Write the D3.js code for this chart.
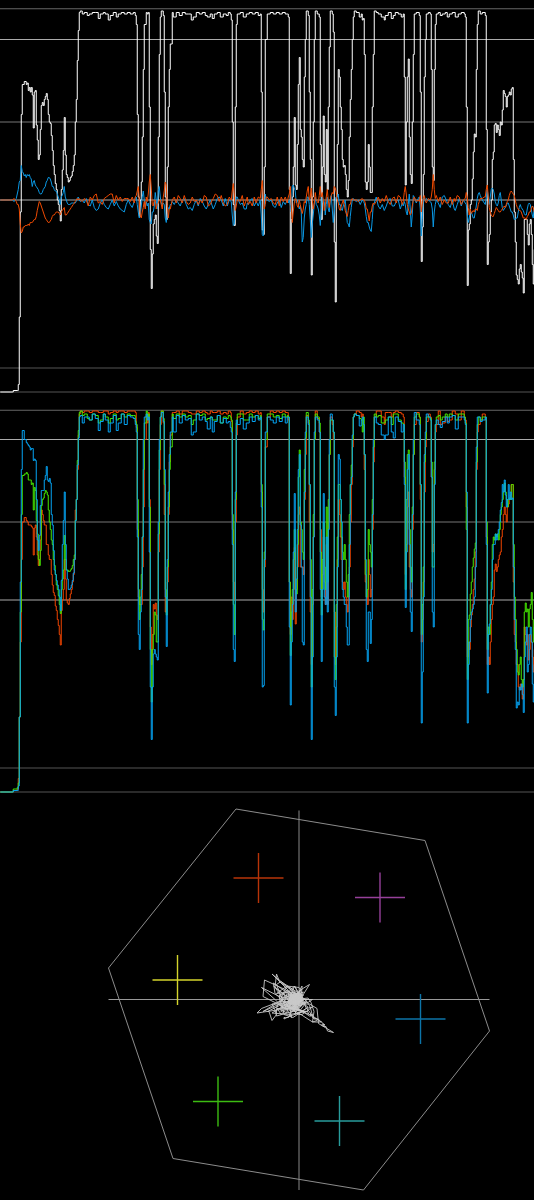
<!DOCTYPE html>
<html><head><meta charset="utf-8"><title>Waveform and vectorscope</title>
<style>html,body{margin:0;padding:0;background:#000}svg{display:block}</style>
<script src="https://cdn.jsdelivr.net/npm/d3@7"></script></head><body><script>
const frames=[0,12,13,17,18,19,20,21,22,24,
26,27,28,29,30,31,32,33,34,35,
36,37,38,39,40,41,42,43,44,45,
46,47,48,49,50,51,52,53,54,55,
56,57,58,59,60,61,62,63,64,65,
66,67,68,69,70,71,72,73,74,75,
76,77,78,79,80,82,84,87,89,92,
95,98,100,103,105,108,110,113,116,118,
121,124,127,130,133,135,136,137,138,139,
140,141,142,143,144,146,147,148,149,150,
151,152,153,154,155,156,157,158,159,160,
161,163,164,165,166,167,168,169,170,172,
173,176,179,182,185,188,191,193,196,199,
202,205,207,210,212,214,217,220,223,226,
228,230,231,232,233,234,235,236,237,240,
243,246,249,252,255,258,260,261,262,263,
264,265,267,270,273,276,279,282,285,287,
288,289,290,291,292,293,294,295,296,297,
298,299,300,301,302,303,304,305,306,308,
309,310,311,312,313,314,315,317,319,320,
321,322,323,324,325,326,327,328,329,330,
332,333,334,335,336,337,338,339,340,341,
342,343,344,345,346,347,348,349,350,351,
352,353,354,356,359,361,362,363,364,365,
366,367,368,369,370,371,372,373,374,376,
378,381,384,385,388,391,393,395,398,401,
403,404,405,406,407,408,409,410,411,412,
413,414,416,419,420,421,422,423,424,425,
426,428,430,431,432,433,434,435,436,438,
440,442,445,447,449,452,455,458,461,464,
465,466,467,468,469,470,471,472,473,474,
475,476,477,478,480,482,485,486,487,488,
489,490,491,492,493,494,495,496,497,498,
499,500,501,502,503,504,505,506,507,508,
509,510,511,512,513,514,515,516,517,518,
519,520,521,522,523,524,525,526,527,528,
529,530,531,532,533,534];
const luma=[0,0,1,1,5,50,120,185,205,207,
205,206,201,203,200,203,198,176,200,201,
178,168,155,158,175,191,193,191,195,197,
199,195,185,180,179,171,161,151,145,139,
135,128,125,121,114,135,148,161,183,158,
145,143,140,141,143,144,147,151,158,180,
195,221,241,253,254,252,253,251,252,253,
253,249,252,253,252,248,251,253,250,252,
253,252,253,252,253,251,245,185,130,117,
128,140,170,215,245,253,252,253,190,95,
69,92,112,115,118,104,99,170,225,250,
254,251,200,130,115,150,190,215,232,253,
250,253,251,253,252,252,248,250,253,252,
253,251,250,252,249,252,253,250,252,251,
253,252,248,180,125,111,190,245,252,253,
250,252,253,252,253,251,252,200,108,105,
150,235,252,253,252,253,252,253,252,252,
250,135,79,115,130,150,183,138,135,165,
205,223,175,170,155,150,210,235,254,251,
200,155,78,130,180,235,254,252,250,165,
115,150,184,145,140,175,135,190,230,254,
252,240,100,60,130,165,215,210,190,175,
155,150,151,145,135,130,141,170,195,215,
235,250,254,253,250,252,248,249,225,140,
135,140,165,150,133,133,190,225,254,253,
252,250,248,251,253,249,251,253,252,250,
252,210,138,180,210,222,170,145,139,180,
225,252,253,251,200,87,110,145,210,235,
252,253,252,215,150,141,215,245,252,253,
251,252,253,250,252,253,250,252,253,252,
250,190,71,108,112,125,128,142,160,172,
170,215,245,254,252,253,251,175,85,100,
105,120,128,155,160,178,179,173,178,175,
171,180,178,188,201,199,197,190,197,198,
200,198,202,203,155,120,100,78,75,72,
82,85,80,76,66,115,115,115,105,98,
112,115,105,85,72,95];
const red=[0,0,1,2,9,50,100,155,180,183,
181,180,178,178,178,177,176,158,176,178,
170,158,151,155,168,188,185,181,178,178,
165,165,158,155,155,145,138,133,131,124,
121,115,111,105,98,121,128,135,155,142,
128,126,125,129,132,135,140,145,155,188,
195,215,238,252,254,253,254,254,253,254,
254,253,253,254,254,252,253,254,253,254,
254,253,254,254,254,253,243,175,130,125,
125,125,150,190,235,252,246,253,195,110,
85,105,125,122,126,118,115,160,215,245,
254,246,185,120,130,140,185,220,238,253,
253,254,252,254,254,253,252,252,254,253,
254,253,252,254,253,253,254,252,253,252,
254,253,247,175,140,128,180,238,250,254,
252,253,254,253,254,252,253,200,135,120,
150,230,250,254,253,254,253,254,253,253,
248,140,105,130,115,135,163,112,135,150,
185,190,150,150,150,145,195,225,251,246,
180,120,85,125,170,235,254,249,240,175,
130,145,170,140,125,165,125,180,225,250,
245,235,120,85,110,155,195,185,170,155,
140,135,140,130,125,120,130,150,180,205,
230,250,252,254,253,250,252,245,215,140,
130,125,155,145,130,135,175,220,250,254,
254,250,245,253,253,250,253,254,253,252,
250,210,145,165,190,200,150,135,130,175,
225,245,253,250,195,100,115,140,200,230,
247,252,250,210,160,165,215,240,245,254,
245,246,250,247,248,254,252,248,254,250,
248,190,90,100,95,110,118,125,135,142,
160,215,240,245,248,252,248,170,85,90,
85,100,115,125,130,148,152,147,150,155,
158,160,170,175,185,190,185,180,190,192,
195,198,205,205,140,105,100,85,85,70,
68,72,70,62,75,110,105,98,105,88,
95,105,100,90,80,95];
const green=[0,0,2,3,6,50,120,185,211,212,
213,212,208,208,208,205,206,188,203,201,
181,172,155,151,161,191,195,196,199,201,
200,198,188,180,175,168,165,155,151,145,
138,135,131,125,119,135,142,148,171,155,
148,148,147,147,148,149,151,155,158,181,
195,221,241,253,254,251,252,249,248,252,
251,246,248,252,250,246,249,252,248,249,
252,250,252,251,251,247,245,195,135,115,
130,145,170,215,246,254,250,252,190,95,
60,95,105,120,118,100,100,172,228,250,
254,249,205,135,118,150,190,215,230,252,
249,252,250,252,250,251,245,248,252,251,
252,248,249,250,248,248,251,246,250,249,
251,250,248,185,125,105,195,246,252,252,
248,248,252,250,251,249,251,205,115,108,
160,235,252,252,250,251,249,252,250,251,
250,140,91,120,135,155,175,135,132,165,
210,228,180,175,160,155,215,236,253,248,
205,155,70,135,185,235,252,250,246,160,
118,155,180,150,135,190,140,195,225,248,
248,240,90,75,125,170,205,205,195,170,
160,155,165,155,140,130,145,185,205,218,
235,250,252,251,249,248,240,250,225,145,
130,135,175,165,160,150,195,230,252,250,
251,246,246,248,250,245,252,252,248,246,
245,220,135,195,225,228,175,150,140,190,
225,250,252,250,205,105,125,150,220,235,
250,250,249,220,150,150,220,245,250,251,
248,250,252,250,252,251,248,252,252,250,
246,175,75,115,118,132,140,150,156,162,
166,220,245,250,248,250,250,180,95,110,
105,125,140,165,170,168,172,170,172,168,
175,185,190,195,200,206,200,195,190,195,
196,195,205,205,165,130,115,95,80,78,
85,90,75,70,75,120,126,120,122,110,
122,125,133,115,100,110];
const blue=[0,0,1,1,4,50,140,215,241,235,
233,232,231,230,228,229,229,221,222,221,
195,168,161,171,191,201,201,201,208,211,
217,208,207,209,206,185,178,161,148,145,
141,138,135,130,121,141,165,181,200,165,
148,142,135,135,136,138,141,146,155,181,
195,218,236,250,251,246,250,250,248,252,
249,241,247,252,248,240,246,251,241,246,
252,245,251,250,249,245,240,170,105,95,
120,135,170,235,250,252,248,250,160,70,
35,70,92,95,92,90,88,180,235,250,
253,247,215,130,97,155,200,225,240,250,
240,251,246,251,248,249,238,240,252,248,
250,247,242,250,240,247,251,246,249,246,
247,243,240,165,95,87,200,248,245,249,
242,246,250,247,251,248,250,190,70,71,
155,240,250,248,246,250,247,250,246,250,
250,110,58,100,125,160,199,120,142,175,
215,225,178,150,100,98,200,240,250,245,
205,130,35,90,170,240,250,248,240,135,
87,135,199,130,125,170,120,175,235,252,
248,240,70,51,90,150,225,222,195,180,
135,130,125,125,110,98,98,165,205,210,
238,250,252,251,244,248,250,245,225,155,
95,87,120,120,99,115,185,235,250,246,
245,238,235,238,250,240,236,250,247,240,
245,205,123,160,215,225,165,120,107,185,
235,253,248,245,205,46,80,130,225,240,
252,250,248,210,120,110,205,245,248,245,
243,247,250,246,250,251,242,250,250,248,
245,200,46,85,100,115,120,122,125,130,
150,230,250,250,247,248,250,165,66,105,
112,125,135,155,165,165,172,168,172,175,
180,188,193,205,200,208,198,190,195,205,
195,200,195,196,150,115,95,56,60,58,
70,68,72,65,53,90,100,110,80,85,
105,110,100,72,60,85];
const chromaFrames=[0,12,14,16,17,18,19,20,21,22,
23,24,25,26,27,28,29,30,31,32,
33,34,35,36,37,38,39,40,41,42,
43,44,45,46,47,48,49,50,51,52,
53,54,55,56,57,58,59,60,61,62,
63,64,65,66,67,68,69,70,71,72,
73,75,76,77,78,79,80,82,84,86,
88,90,92,94,96,98,100,102,104,106,
108,110,112,114,116,118,120,122,124,126,
128,130,132,134,135,136,137,138,139,140,
141,142,143,144,145,146,147,148,149,150,
151,152,153,154,155,156,157,158,159,160,
161,162,163,164,165,166,167,168,169,170,
171,172,174,176,178,180,182,184,186,188,
190,192,194,196,198,200,202,204,206,208,
210,212,213,215,217,219,221,223,225,227,
229,231,232,233,234,235,236,237,238,240,
242,244,246,247,248,250,252,254,256,258,
260,261,262,263,264,265,266,267,269,271,
273,275,277,279,281,283,285,287,288,289,
290,291,292,293,294,295,296,297,298,299,
300,301,302,303,304,305,306,307,308,309,
310,311,312,313,314,315,316,317,318,319,
320,321,322,323,324,325,326,327,328,329,
330,331,332,333,334,335,336,337,338,339,
340,341,342,343,344,345,346,347,348,349,
350,351,352,353,354,356,358,360,362,363,
364,365,366,367,368,369,370,371,372,373,
374,376,378,380,382,384,386,388,390,392,
394,396,398,400,402,403,404,405,406,407,
408,409,410,411,412,413,414,416,418,419,
420,421,422,423,424,425,426,428,430,431,
432,433,434,435,436,438,440,442,444,446,
448,450,452,454,455,457,459,461,463,465,
466,467,468,469,470,471,472,473,474,475,
476,477,478,479,480,482,484,485,486,487,
488,489,490,491,492,493,494,495,496,497,
498,499,500,501,502,503,504,505,506,507,
508,509,510,511,512,513,514,515,516,517,
518,519,520,521,522,523,524,525,526,527,
528,529,530,531,532,533,534];
const cb=[128,128,127,129,132,135,140,141,151,147,
146,144,145,143,145,144,145,143,142,137,
140,141,138,137,136,135,133,132,132,133,
135,136,137,140,141,143,143,142,140,137,
137,135,134,134,132,130,128,125,130,131,
133,137,130,128,126,125,125,125,126,126,
126,126,127,129,130,128,127,128,126,129,
125,124,128,123,121,122,126,128,125,123,
122,125,128,124,127,124,122,121,120,125,
128,125,123,127,129,130,125,120,116,118,
124,130,134,128,123,127,124,126,115,113,
112,120,120,124,133,128,122,134,137,130,
126,124,126,125,116,113,118,123,122,125,
125,127,125,128,126,124,128,129,125,122,
123,121,125,128,124,129,127,124,122,125,
128,124,122,125,129,130,128,124,129,124,
128,127,118,111,112,124,130,130,128,125,
126,122,122,126,125,128,129,124,127,124,
128,118,105,104,120,132,128,128,127,128,
124,123,126,128,123,127,125,128,126,128,
125,120,137,138,136,134,126,128,126,122,
124,120,100,103,116,122,125,130,130,125,
115,103,112,118,125,130,125,124,122,118,
111,120,131,126,127,118,125,130,122,120,
128,131,122,113,120,128,130,130,132,125,
125,122,121,124,126,128,120,113,112,110,
117,123,128,129,128,127,128,125,128,127,
126,122,117,113,113,110,108,107,115,125,
126,130,124,122,125,121,124,128,129,124,
124,127,128,122,126,124,127,125,120,118,
125,132,122,110,118,131,130,126,129,130,
122,104,115,128,130,127,129,128,127,126,
122,110,120,125,128,126,123,130,131,128,
125,123,128,122,121,125,129,124,128,126,
125,118,113,116,120,120,118,116,116,120,
124,129,132,133,131,128,126,125,130,135,
130,125,130,135,136,135,132,127,125,124,
126,131,133,128,123,121,122,123,124,126,
126,124,122,120,120,118,115,115,116,116,
120,123,125,123,122,121,119,118,118,122,
125,126,125,122,118,116,124];
const cr=[128,128,129,127,125,125,122,112,106,107,
110,110,111,111,111,112,111,113,113,113,
114,115,115,117,121,124,127,126,124,122,
120,118,116,115,114,113,113,114,115,117,
118,118,119,120,120,120,119,118,120,121,
122,123,118,118,119,120,121,122,123,124,
125,127,128,129,128,129,128,127,129,128,
124,130,128,131,132,126,127,125,129,130,
131,132,132,126,131,128,130,127,129,129,
129,127,130,126,130,131,134,137,129,118,
116,120,123,127,122,130,127,132,140,145,
136,125,124,128,128,122,125,126,128,128,
125,122,130,134,140,138,125,116,122,122,
125,128,130,126,131,129,126,131,127,125,
126,130,127,128,125,128,126,131,130,124,
125,128,129,132,131,127,131,126,124,125,
130,128,134,139,132,121,124,128,128,127,
131,124,128,130,125,127,124,130,126,130,
129,135,141,130,122,125,130,130,128,129,
126,125,130,124,130,127,130,126,130,132,
137,124,113,120,126,129,128,124,123,128,
125,122,119,122,127,126,130,134,137,128,
130,136,128,122,126,133,128,127,126,131,
137,130,133,128,121,124,130,135,128,123,
128,131,133,132,137,136,133,128,126,122,
121,124,126,128,125,121,119,117,121,125,
125,128,129,128,128,128,127,128,129,128,
128,126,122,122,118,114,120,120,124,126,
125,127,130,126,129,127,131,127,125,129,
130,126,131,130,125,127,133,137,132,125,
122,120,118,119,124,128,130,127,128,127,
131,120,125,129,131,128,126,129,128,130,
135,145,135,129,131,127,130,125,128,126,
126,130,125,129,127,131,130,125,128,129,
133,130,123,118,122,119,120,121,120,122,
122,121,125,127,129,129,130,130,135,138,
130,123,120,118,117,117,119,121,123,122,
121,120,120,121,122,123,124,123,125,127,
128,131,133,134,133,132,131,128,125,123,
122,121,121,120,118,116,116,116,115,117,
118,120,120,122,124,123,120];
const lumaGrid=[0,16,128,180,235,255.5];
const rgbGrid=[0,16,128,180,235,254.5];
const gridColors=["#555","#555","#aaa","#777","#aaa","#666"];
const hexagonCb=[86,212,255,171,44,1];
const hexagonCr=[255,234,107,1,22,149];
const targetCb=[101,182,209,155,74,47];
const targetCr=[209,196,115,47,60,141];
const targetColors=["#b83408","#96409a","#0c74a8","#289c9c","#3cbc12","#d4d42c"];

const svg=d3.select("body").append("svg").attr("width",534).attr("height",1200);
svg.append("rect").attr("width",534).attr("height",1200).attr("fill","#000");
const x=d3.scaleLinear().domain([0,534]).range([0.25,534.25]);
const yLuma=d3.scaleLinear().domain([0,255]).range([392,9.5]);
const yRgb=d3.scaleLinear().domain([0,255]).range([792,409.5]);

function grid(vals,scale){
  svg.append("g").selectAll("line").data(vals).join("line")
   .attr("x1",0).attr("x2",534).attr("y1",d=>scale(d)).attr("y2",d=>scale(d))
   .attr("stroke",(d,i)=>gridColors[i]).attr("stroke-width",1);
}
function trace(xs,vals,scale,color,curve){
  const line=d3.line().x((d,i)=>x(xs[i])).y(d=>scale(d)).curve(curve);
  svg.append("path").attr("d",line(vals)).attr("fill","none").attr("stroke",color)
   .attr("stroke-width",1).attr("stroke-linejoin","miter");
}
grid(lumaGrid,yLuma);
trace(frames,luma,yLuma,"#fff",d3.curveStepAfter);
trace(chromaFrames,cb,yLuma,"#0a98e4",d3.curveLinear);
trace(chromaFrames,cr,yLuma,"#f04a00",d3.curveLinear);

grid(rgbGrid,yRgb);
trace(frames,red,yRgb,"#f04400",d3.curveStepAfter);
trace(frames,green,yRgb,"#44e800",d3.curveStepAfter);
trace(frames,blue,yRgb,"#04a4f4",d3.curveStepAfter);

const vx=d3.scaleLinear().domain([128,255]).range([299,489.5]);
const vy=d3.scaleLinear().domain([128,255]).range([999.5,809]);
svg.append("line").attr("x1",vx(128)).attr("x2",vx(128)).attr("y1",vy(254)).attr("y2",vy(1)).attr("stroke","#888");
svg.append("line").attr("x1",vx(1)).attr("x2",vx(255)).attr("y1",vy(128)).attr("y2",vy(128)).attr("stroke","#999");
const hex=d3.line().x((d,i)=>vx(hexagonCb[i])).y(d=>vy(d)).curve(d3.curveLinearClosed);
svg.append("path").attr("d",hex(hexagonCr)).attr("fill","none").attr("stroke","#8c8c8c").attr("stroke-width",1);
const arm=50/3;
svg.append("g").selectAll("g").data(targetCb).join("g").each(function(d,i){
  const g=d3.select(this),c=targetColors[i],r=targetCr[i];
  g.append("line").attr("x1",vx(d-arm)).attr("x2",vx(d+arm)).attr("y1",vy(r)).attr("y2",vy(r)).attr("stroke",c).attr("stroke-width",1.4);
  g.append("line").attr("x1",vx(d)).attr("x2",vx(d)).attr("y1",vy(r-arm)).attr("y2",vy(r+arm)).attr("stroke",c).attr("stroke-width",1.4);
});
const scope=d3.line().x((d,i)=>vx(cb[i])).y(d=>vy(d));
svg.append("path").attr("d",scope(cr)).attr("fill","none").attr("stroke","#c8c8c8").attr("stroke-width",0.9);
</script></body></html>
